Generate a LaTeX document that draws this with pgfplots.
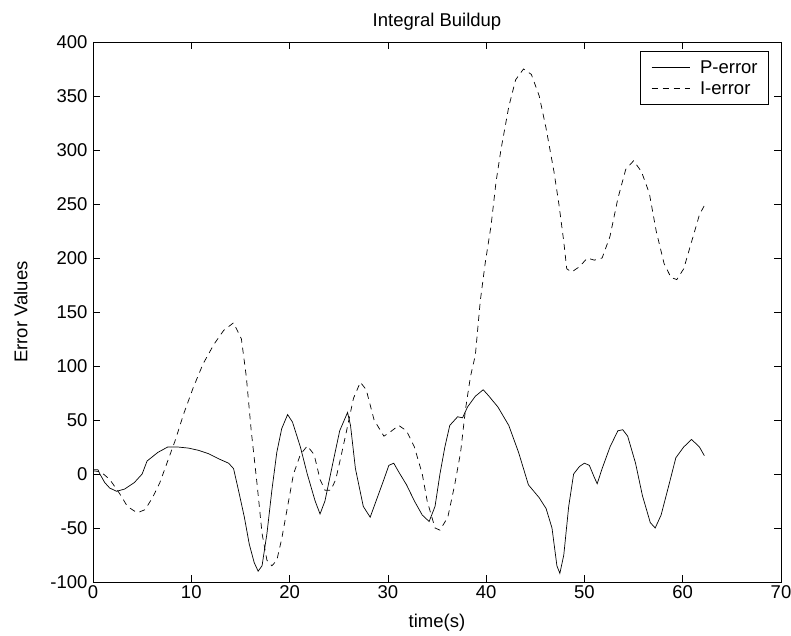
\documentclass[border=0pt]{standalone}
\usepackage{pgfplots}
\pgfplotsset{compat=1.18}
\usepackage{fontspec}
\setmainfont{Liberation Sans}
\newcommand{\chartfont}{\fontsize{18.5pt}{22pt}\selectfont}
\begin{document}
\begin{tikzpicture}
\useasboundingbox (-93pt,-54pt) rectangle (698pt,582pt);
\begin{axis}[
  at={(0pt,0pt)}, anchor=south west,
  scale only axis, width=688pt, height=540pt,
  xmin=0, xmax=70, ymin=-100, ymax=400,
  xtick={0,10,...,70}, ytick={-100,-50,...,400},
  tick align=inside, major tick length=7pt,
  axis line style={line width=0.8pt},
  every tick/.style={black, line width=0.7pt},
  /pgf/number format/assume math mode=true,
  tick label style={font=\chartfont},
  yticklabel style={xshift=-2pt},
  label style={font=\chartfont},
  title style={font=\chartfont, yshift=2pt},
  title={Integral Buildup},
  xlabel={time(s)}, ylabel={Error Values},
  xlabel style={yshift=-9pt},
  ylabel style={yshift=16pt},
  legend style={font=\chartfont, at={(0.9826,0.9833)}, anchor=north east, draw=black, line width=0.8pt, inner xsep=9pt, inner ysep=7pt, row sep=3pt, cells={anchor=west}},
  legend cell align=left,
  legend image code/.code={\draw[#1] (0pt,0pt) -- (38pt,0pt); \path (-2pt,0pt) (46pt,0pt);},
]
\addplot[black, line width=0.7pt] coordinates {
(0,4)(0.5,4)(0.7,0)(1.2,-8)(1.7,-13)(2.4,-16)(3.2,-14)(4.2,-8)(5.0,0)(5.5,12)(6.6,20)(7.6,25)(8.6,25)(9.7,24)(10.7,22)(11.7,19)(12.8,14)(13.8,10)(14.3,5)(14.8,-15)(15.4,-40)(15.9,-65)(16.4,-82)(16.8,-90)(17.2,-85)(17.7,-55)(18.2,-15)(18.7,20)(19.2,42)(19.8,55)(20.3,48)(21.1,25)(21.8,0)(22.6,-25)(23.1,-37)(23.6,-25)(24.4,10)(25.1,40)(25.9,57)(26.2,45)(26.7,5)(27.5,-30)(28.2,-40)(28.8,-25)(29.6,-5)(30.1,8)(30.6,10)(31.1,2)(31.9,-10)(32.7,-25)(33.5,-38)(34.2,-44)(34.8,-30)(35.3,0)(35.8,25)(36.3,45)(37.1,53)(37.6,52)(38.1,62)(38.9,72)(39.7,78)(40.2,73)(41.2,62)(42.3,45)(43.3,20)(44.3,-10)(45.4,-22)(46.1,-32)(46.7,-50)(47.2,-85)(47.5,-92)(47.9,-75)(48.4,-30)(48.9,0)(49.5,7)(50.0,10)(50.5,8)(51.0,-3)(51.3,-9)(51.8,5)(52.6,25)(53.4,40)(53.9,41)(54.4,35)(55.2,10)(55.9,-20)(56.7,-45)(57.2,-50)(57.8,-38)(58.6,-10)(59.3,15)(60.1,25)(60.9,32)(61.7,25)(62.2,17)
};
\addlegendentry{P-error}
\addplot[black, line width=0.7pt, dash pattern=on 6pt off 5pt] coordinates {
(0,3)(0.8,2)(1.7,-5)(2.7,-18)(3.5,-30)(4.5,-36)(5.3,-33)(6.05,-22)(6.8,-8)(7.6,12)(8.4,32)(9.2,55)(10.2,80)(11.2,102)(12.3,120)(13.3,133)(14.3,140)(15.1,125)(15.6,90)(16.1,40)(16.7,-10)(17.2,-55)(17.7,-80)(18.2,-85)(18.7,-80)(19.2,-60)(19.8,-30)(20.4,0)(21.1,18)(21.8,26)(22.5,18)(23.1,-5)(23.6,-15)(24.2,-15)(24.7,-5)(25.2,15)(25.8,40)(26.5,70)(27.2,85)(27.8,78)(28.6,50)(29.6,35)(30.4,40)(31.1,45)(31.9,40)(32.7,25)(33.5,0)(34.0,-25)(34.8,-50)(35.3,-52)(36.1,-40)(36.8,-10)(37.4,20)(37.9,60)(38.4,90)(38.9,110)(39.4,160)(39.9,195)(40.5,230)(41.0,270)(41.5,300)(42.3,340)(43.0,365)(43.8,375)(44.6,370)(45.4,350)(46.1,320)(46.9,280)(47.4,250)(47.9,215)(48.2,190)(48.7,187)(49.5,192)(50.3,200)(51.0,198)(51.8,200)(52.6,220)(53.4,255)(54.2,282)(55.0,290)(55.8,280)(56.6,260)(57.3,225)(58.1,195)(58.8,182)(59.4,180)(60.1,190)(60.9,215)(61.7,240)(62.4,252)
};
\addlegendentry{I-error}
\end{axis}
\end{tikzpicture}
\end{document}
